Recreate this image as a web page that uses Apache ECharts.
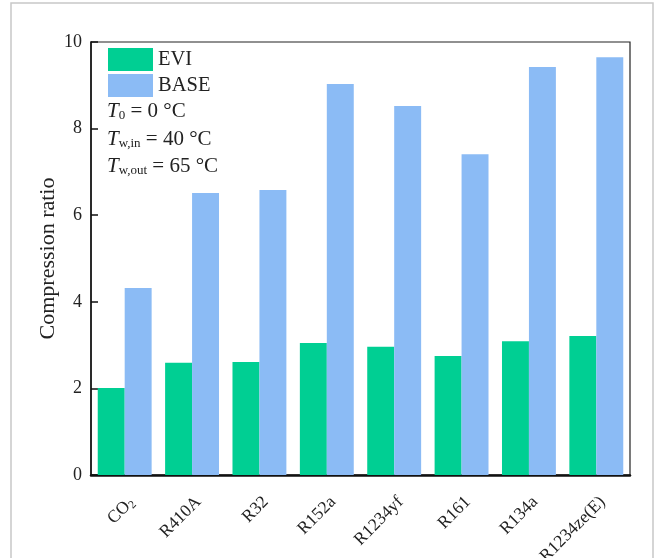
<!DOCTYPE html>
<html>
<head>
<meta charset="utf-8">
<script src="https://cdn.jsdelivr.net/npm/echarts@6/dist/echarts.min.js"></script>
<style>html,body{margin:0;padding:0;background:#fff}#c{width:656px;height:558px}</style>
</head>
<body>
<div id="c"></div>
<script>
const categories = ['CO2', 'R410A', 'R32', 'R152a', 'R1234yf', 'R161', 'R134a', 'R1234ze(E)'];
const seriesNames = ['EVI', 'BASE'];
const eviValues = [2.01, 2.59, 2.61, 3.05, 2.96, 2.75, 3.09, 3.21];
const baseValues = [4.32, 6.51, 6.58, 9.03, 8.52, 7.41, 9.42, 9.65];
const yTicks = [0, 2, 4, 6, 8, 10];

const FONT = '"Liberation Serif", "Times New Roman", serif';
const annoRich = {
  t: { fontFamily: FONT, fontStyle: 'italic', fontSize: 21, fill: '#222' },
  s: { fontFamily: FONT, fontSize: 13, fill: '#222', verticalAlign: 'bottom', padding: [7, 0, 0, 0] },
  n: { fontFamily: FONT, fontSize: 21, fill: '#222' }
};
const chart = echarts.init(document.getElementById('c'));
chart.setOption({
  animation: false,
  backgroundColor: '#fff',
  grid: { left: 91, right: 26, top: 42, bottom: 83, outerBoundsMode: 'none', containLabel: false, show: true, borderColor: '#222', borderWidth: 1.2 },
  legend: {
    orient: 'vertical', left: 103, top: 43, itemWidth: 45, itemHeight: 23, itemGap: 3,
    icon: 'rect',
    textStyle: { fontFamily: FONT, fontSize: 20.5, color: '#222' },
    data: seriesNames
  },
  xAxis: {
    type: 'category', data: categories,
    axisLine: { lineStyle: { color: '#111', width: 2.5 } },
    axisTick: { show: false },
    axisLabel: {
      rotate: 45, margin: 18, verticalAlign: 'top', fontFamily: FONT, fontSize: 17.5, color: '#222',
      formatter: v => v === 'CO2' ? '{n|CO}{s|2}' : v,
      rich: { n: { fontFamily: FONT, fontSize: 17.5, color: '#222' }, s: { fontFamily: FONT, fontSize: 11.5, color: '#222', verticalAlign: 'bottom', padding: [8, 0, 0, 0] } }
    }
  },
  yAxis: {
    type: 'value', min: yTicks[0], max: yTicks[yTicks.length - 1], interval: 2,
    name: 'Compression ratio', nameLocation: 'middle', nameGap: 32, nameMoveOverlap: false,
    nameTextStyle: { fontFamily: FONT, fontSize: 22, color: '#222' },
    axisLine: { show: true, lineStyle: { color: '#111', width: 1.5 } },
    axisTick: { show: true, inside: true, length: 7, lineStyle: { color: '#111', width: 1.5 } },
    axisLabel: { fontFamily: FONT, fontSize: 18, color: '#222', margin: 9 },
    splitLine: { show: false }
  },
  series: [
    { name: seriesNames[0], type: 'bar', data: eviValues, barGap: '0%', barCategoryGap: '20%', itemStyle: { color: '#00cf93' } },
    { name: seriesNames[1], type: 'bar', data: baseValues, barGap: '0%', barCategoryGap: '20%', itemStyle: { color: '#8bbbf5' } }
  ],
  graphic: [
    { type: 'rect', shape: { x: 11, y: 3, width: 642, height: 570 }, style: { fill: 'none', stroke: '#c8c8c8', lineWidth: 1.5 }, silent: true },
    { type: 'text', left: 107, top: 101, style: { text: '{t|T}{s|0}{n| = 0 °C}', rich: annoRich } },
    { type: 'text', left: 107, top: 129, style: { text: '{t|T}{s|w,in}{n| = 40 °C}', rich: annoRich } },
    { type: 'text', left: 107, top: 156, style: { text: '{t|T}{s|w,out}{n| = 65 °C}', rich: annoRich } }
  ]
});
</script>
</body>
</html>
